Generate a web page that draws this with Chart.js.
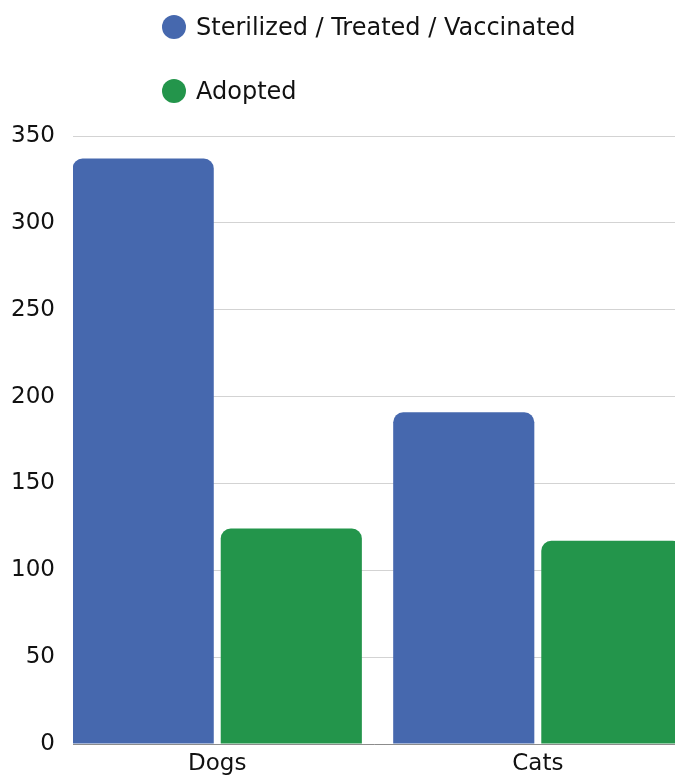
<!DOCTYPE html>
<html>
<head>
<meta charset="utf-8">
<script src="https://cdn.jsdelivr.net/npm/chart.js@4.4.1/dist/chart.umd.min.js"></script>
<style>
  html, body { margin: 0; padding: 0; background: #fff; }
  #wrap { position: relative; width: 675px; height: 778px; overflow: hidden; }
  #chart-box { position: absolute; left: 0; top: 0; width: 675px; height: 778px; }
  #legend { position: absolute; left: 162px; top: 0; font-family: "DejaVu Sans", sans-serif; font-size: 24px; color: #111; }
  .item { position: absolute; left: 0; display: flex; align-items: center; white-space: nowrap; height: 30px; }
  .dot { width: 24px; height: 24px; border-radius: 50%; margin-right: 10px; flex: none; }
</style>
</head>
<body>
<div id="wrap">
  <div id="chart-box"><canvas id="barChart"></canvas></div>
  <div id="legend"></div>
</div>
<script>
// ----------------------------
// DATA
// ----------------------------
const categories = ["Dogs", "Cats"];
const seriesLabels = ["Sterilized / Treated / Vaccinated", "Adopted"];
const seriesColors = ["#4668ae", "#23954b"];
const sterilizedValues = [337, 191];
const adoptedValues = [124, 117];
const yTickStep = 50;
const yMax = 350;

const FONT = "'DejaVu Sans', sans-serif";

// ----------------------------
// LEGEND (html)
// ----------------------------
const legend = document.getElementById("legend");
seriesLabels.forEach((label, i) => {
  const div = document.createElement("div");
  div.className = "item";
  div.style.top = (12 + i * 64) + "px";
  div.innerHTML = `<span class="dot" style="background:${seriesColors[i]}"></span><span>${label}</span>`;
  legend.appendChild(div);
});

// ----------------------------
// CHART
// ----------------------------
// x is a linear index axis (0 = Dogs, 1 = Cats) so the first bar can sit on the left edge
const toPoints = (vals) => vals.map((v, i) => ({ x: i, y: v }));

new Chart(document.getElementById("barChart"), {
  type: "bar",
  data: {
    datasets: [
      {
        label: seriesLabels[0],
        data: toPoints(sterilizedValues),
        backgroundColor: seriesColors[0],
        borderRadius: 10
      },
      {
        label: seriesLabels[1],
        data: toPoints(adoptedValues),
        backgroundColor: seriesColors[1],
        borderRadius: 10
      }
    ]
  },
  options: {
    responsive: true,
    maintainAspectRatio: false,
    animation: false,
    categoryPercentage: 0.924,
    barPercentage: 0.953,
    layout: { padding: { top: 136, left: 0, right: 0, bottom: 0 } },
    plugins: {
      legend: { display: false },
      tooltip: { enabled: false }
    },
    scales: {
      x: {
        type: "linear",
        min: -0.45,
        max: 1.428,
        bounds: "data",
        offset: false,
        grid: { display: false, drawTicks: false, offset: false },
        border: { display: true, color: "#8c8c8c", width: 1 },
        afterBuildTicks: (s) => { s.ticks = categories.map((c, i) => ({ value: i })); },
        afterFit: (s) => { s.height = 34; },
        ticks: {
          autoSkip: false,
          maxRotation: 0,
          padding: 6,
          color: "#111",
          font: { family: FONT, size: 23 },
          callback: (v) => categories[Math.round(v)]
        }
      },
      y: {
        min: 0,
        max: yMax,
        afterFit: (s) => { s.width = 73; },
        grid: { color: "#d3d3d3", drawTicks: false },
        border: { display: false },
        ticks: {
          stepSize: yTickStep,
          padding: 18,
          color: "#111",
          font: { family: FONT, size: 23 }
        }
      }
    }
  }
});
</script>
</body>
</html>
